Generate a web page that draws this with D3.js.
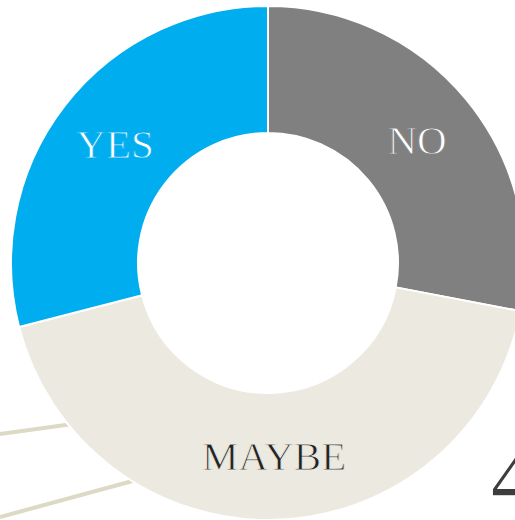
<!DOCTYPE html>
<html><head><meta charset="utf-8">
<script src="https://cdn.jsdelivr.net/npm/d3@7"></script>
<style>html,body{margin:0;padding:0;background:#fff;overflow:hidden}</style>
</head><body>
<svg id="c" width="515" height="520"></svg>
<script>
const categories = ["NO", "MAYBE", "YES"];
const values = [28, 43, 29];
const colors = ["#808080", "#ECEAE0", "#00AEEF"];
const labelColors = ["#ffffff", "#222222", "#ffffff"];

const svg = d3.select("#c");
const cx = 268, cy = 263, R = 257, r = 130;
const FONT = "'Liberation Serif', serif";

// background leader lines (from an off-canvas element)
const lines = [[[0,434],[80,423]],[[0,517],[140,479]]];
svg.selectAll("line.bg").data(lines).join("line")
  .attr("x1", d => d[0][0]).attr("y1", d => d[0][1])
  .attr("x2", d => d[1][0]).attr("y2", d => d[1][1])
  .attr("stroke", "#DCD9C4").attr("stroke-width", 4);

// partially visible large numeral
svg.append("text").attr("x", 490).attr("y", 512)
  .attr("font-family", FONT).attr("font-size", 112)
  .attr("fill", "#3d3d3d").attr("stroke", "#fff").attr("stroke-width", 1.5)
  .text("4");

const g = svg.append("g").attr("transform", `translate(${cx},${cy})`);
const pie = d3.pie().sort(null).value(d => d)(values);
const arc = d3.arc().innerRadius(r).outerRadius(R);

g.selectAll("path").data(pie).join("path")
  .attr("d", arc)
  .attr("fill", (d, i) => colors[i])
  .attr("stroke", "#fff").attr("stroke-width", 2);

g.selectAll("text").data(pie).join("text")
  .attr("transform", d => `translate(${arc.centroid(d)})`)
  .attr("text-anchor", "middle").attr("dy", "0.34em")
  .attr("font-family", FONT).attr("font-size", 41)
  .attr("fill", (d, i) => labelColors[i])
  .attr("stroke", (d, i) => colors[i]).attr("stroke-width", 0.9)
  .text((d, i) => categories[i]);
</script>
</body></html>
